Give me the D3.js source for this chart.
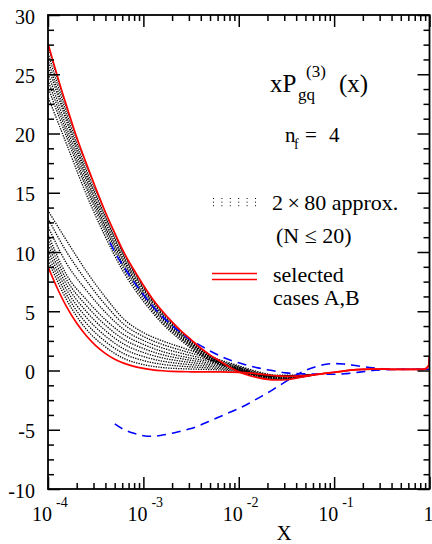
<!DOCTYPE html>
<html><head><meta charset="utf-8">
<script src="https://cdn.jsdelivr.net/npm/d3@7"></script>
<style>
body{margin:0;background:#fff}
svg{display:block}
</style>
</head><body><svg id="c" width="432" height="544"></svg>
<script>
// ---------- data (x given as log10 exponents) ----------
const caseAX = [-4.0,-3.9,-3.8,-3.7,-3.6,-3.5,-3.4,-3.3,-3.2,-3.1,-3.0,-2.9,-2.8,-2.7,-2.6,-2.5,-2.4,-2.3,-2.2,-2.1,-2.0,-1.9,-1.8,-1.7,-1.6,-1.5,-1.4,-1.3,-1.2,-1.1,-1.0,-0.9,-0.8,-0.7,-0.6,-0.5,-0.4,-0.3,-0.2,-0.1,-0.05,-0.01,0];
const caseAY = [27.6,24.8,22.2,19.7,17.5,15.4,13.4,11.6,9.9,8.5,7.2,6.0,5.0,4.1,3.3,2.6,1.9,1.3,0.8,0.3,-0.1,-0.4,-0.6,-0.75,-0.8,-0.78,-0.65,-0.5,-0.35,-0.25,-0.15,-0.05,0.05,0.1,0.12,0.12,0.1,0.1,0.1,0.1,0.12,0.4,1.2];
const caseBX = caseAX;
const caseBY = [8.75,6.9,5.3,4.0,2.95,2.1,1.45,0.95,0.6,0.35,0.18,0.06,-0.02,-0.08,-0.1,-0.11,-0.12,-0.12,-0.12,-0.13,-0.15,-0.2,-0.28,-0.38,-0.46,-0.5,-0.47,-0.42,-0.35,-0.25,-0.15,-0.05,0.05,0.1,0.12,0.12,0.1,0.1,0.1,0.1,0.12,0.4,1.2];

const dash1X = [-3.35,-3.3,-3.2,-3.1,-3.0,-2.9,-2.8,-2.7,-2.6,-2.5,-2.4,-2.3,-2.2,-2.1,-2.0,-1.9,-1.8,-1.7,-1.6,-1.5,-1.4,-1.3,-1.2,-1.1,-1.0,-0.9,-0.8,-0.7,-0.6,-0.5,-0.4,-0.2,0];
const dash1Y = [10.8,10.0,8.7,7.5,6.4,5.4,4.55,3.8,3.15,2.55,2.1,1.65,1.25,0.9,0.65,0.42,0.22,0.07,-0.08,-0.2,-0.25,-0.28,-0.3,-0.32,-0.32,-0.28,-0.2,-0.1,0.0,0.05,0.08,0.1,0.1];
const dash2X = [-3.3,-3.2,-3.1,-3.0,-2.9,-2.8,-2.7,-2.6,-2.5,-2.4,-2.3,-2.2,-2.1,-2.0,-1.9,-1.8,-1.7,-1.6,-1.5,-1.4,-1.3,-1.2,-1.1,-1.0,-0.9,-0.8,-0.7,-0.6,-0.5,-0.4,-0.2,0];
const dash2Y = [-4.5,-5.0,-5.3,-5.5,-5.55,-5.45,-5.3,-5.1,-4.9,-4.6,-4.25,-3.9,-3.55,-3.2,-2.8,-2.35,-1.9,-1.4,-0.9,-0.4,0.0,0.3,0.5,0.58,0.55,0.45,0.33,0.22,0.15,0.12,0.1,0.1];

// approximations (dotted), sampled on approxX
const approxX = [-4.0,-3.8,-3.6,-3.4,-3.2,-3.0,-2.8,-2.6,-2.4,-2.2,-2.0,-1.8,-1.6,-1.4,-1.2];
const approxUpper = [
  [27.4,22.0,17.4,13.3,9.8,7.1,4.95,3.25,1.85,0.8,-0.05,-0.55,-0.75,-0.62,-0.36],
  [26.8,21.6,17.0,13.0,9.6,6.95,4.8,3.15,1.8,0.75,-0.02,-0.5,-0.72,-0.6,-0.36],
  [26.2,21.2,16.7,12.8,9.4,6.8,4.7,3.05,1.72,0.7,0.02,-0.46,-0.68,-0.58,-0.36],
  [25.7,20.9,16.4,12.5,9.2,6.6,4.55,2.95,1.65,0.66,0.06,-0.42,-0.64,-0.56,-0.36],
  [25.1,20.4,16.1,12.2,9.0,6.45,4.4,2.85,1.57,0.62,0.1,-0.4,-0.6,-0.54,-0.36],
  [24.5,20.0,15.7,12.0,8.75,6.3,4.3,2.75,1.5,0.58,0.14,-0.38,-0.57,-0.52,-0.36],
  [23.9,19.6,15.4,11.7,8.5,6.1,4.1,2.65,1.4,0.54,0.18,-0.36,-0.54,-0.5,-0.36],
  [23.1,19.0,14.9,11.3,8.2,5.85,3.95,2.5,1.3,0.5,0.22,-0.34,-0.5,-0.48,-0.36]
];
const approxLower = [
  [9.3,5.9,3.5,2.0,1.0,0.5,0.25,0.15,0.1,0.05,-0.1,-0.35,-0.5,-0.45,-0.38],
  [9.74,6.32,4.0,2.46,1.4,0.84,0.52,0.36,0.26,0.16,-0.04,-0.34,-0.5,-0.45,-0.38],
  [10.18,6.74,4.5,2.92,1.8,1.18,0.79,0.57,0.42,0.27,0.02,-0.33,-0.5,-0.45,-0.38],
  [10.62,7.16,5.0,3.38,2.2,1.52,1.06,0.78,0.58,0.38,0.08,-0.32,-0.5,-0.45,-0.38],
  [11.06,7.58,5.5,3.84,2.6,1.86,1.33,0.99,0.74,0.49,0.14,-0.31,-0.5,-0.45,-0.38],
  [11.5,8.0,6.0,4.3,3.0,2.2,1.6,1.2,0.9,0.6,0.2,-0.3,-0.5,-0.45,-0.38],
  [12.16,8.96,6.79,4.93,3.43,2.53,1.9,1.45,1.07,0.7,0.27,-0.23,-0.47,-0.43,-0.37],
  [12.84,9.94,7.61,5.57,3.87,2.87,2.2,1.7,1.24,0.8,0.33,-0.17,-0.43,-0.42,-0.36],
  [13.5,10.9,8.4,6.2,4.3,3.2,2.5,1.95,1.4,0.9,0.4,-0.1,-0.4,-0.4,-0.35]
];

// ticks
const xMajor = [1e-4,1e-3,1e-2,1e-1,1];
const xMajorBase = ["10","10","10","10","1"];
const xMajorExp = ["-4","-3","-2","-1",""];
const yMajor = [-10,-5,0,5,10,15,20,25,30];
const yMajorLabels = ["-10","-5","0","5","10","15","20","25","30"];

// ---------- drawing ----------
const FONT = "Liberation Serif, Times New Roman, serif";
const W=432,H=544;
const M={l:48,r:429.5,t:15,b:489};
const x=d3.scaleLog().domain([1e-4,1]).range([M.l,M.r]);
const y=d3.scaleLinear().domain([-10,30]).range([M.b,M.t]);
const svg=d3.select('#c');
svg.append('rect').attr('width',W).attr('height',H).attr('fill','#fff');
svg.append('defs').append('clipPath').attr('id','clip').append('rect')
  .attr('x',M.l).attr('y',M.t).attr('width',M.r-M.l).attr('height',M.b-M.t);
const plot=svg.append('g').attr('clip-path','url(#clip)');
const line=d3.line().x(d=>x(Math.pow(10,d[0]))).y(d=>y(d[1])).curve(d3.curveMonotoneX);
const pts=(ex,ys)=>ex.map((e,i)=>[e,ys[i]]);
function txt(xp,yp,size,s,anchor){
  return svg.append('text').attr('x',xp).attr('y',yp).attr('font-size',size)
    .attr('font-family',FONT).attr('fill','#000').attr('text-anchor',anchor||'start').text(s);
}

approxLower.concat(approxUpper).forEach((ys,i)=>{
  plot.append('path').attr('d',line(pts(approxX,ys))).attr('fill','none')
    .attr('stroke','#000').attr('stroke-width',1.3).attr('stroke-dasharray','1.3 1.2')
    .attr('stroke-dashoffset',i*0.7);
});
[[dash1X,dash1Y],[dash2X,dash2Y]].forEach(([ex,ys])=>{
  plot.append('path').attr('d',line(pts(ex,ys))).attr('fill','none')
    .attr('stroke','#0000ff').attr('stroke-width',1.6).attr('stroke-dasharray','9 6');
});
[[caseAX,caseAY],[caseBX,caseBY]].forEach(([ex,ys])=>{
  plot.append('path').attr('d',line(pts(ex,ys))).attr('fill','none')
    .attr('stroke','#ff0000').attr('stroke-width',1.7);
});

// axes (inward ticks)
const xMinor=[]; for(let d=-4;d<0;d++) for(let k=2;k<=9;k++) xMinor.push(k*Math.pow(10,d));
const yMinor=d3.range(-10,30.001,1.25).filter(v=>Math.abs(v/5-Math.round(v/5))>1e-6);
function axisG(axis,tx,ty){
  const g=svg.append('g').attr('transform',`translate(${tx},${ty})`).call(axis);
  g.select('.domain').remove();
  g.selectAll('text').remove();
  g.selectAll('line').attr('stroke','#000').attr('stroke-width',1.5);
}
axisG(d3.axisBottom(x).tickValues(xMajor).tickSize(-12),0,M.b);
axisG(d3.axisBottom(x).tickValues(xMinor).tickSize(-6),0,M.b);
axisG(d3.axisTop(x).tickValues(xMajor).tickSize(-12),0,M.t);
axisG(d3.axisTop(x).tickValues(xMinor).tickSize(-6),0,M.t);
axisG(d3.axisLeft(y).tickValues(yMajor).tickSize(-12),M.l,0);
axisG(d3.axisLeft(y).tickValues(yMinor).tickSize(-6),M.l,0);
axisG(d3.axisRight(y).tickValues(yMajor).tickSize(-12),M.r,0);
axisG(d3.axisRight(y).tickValues(yMinor).tickSize(-6),M.r,0);
svg.append('rect').attr('x',M.l).attr('y',M.t).attr('width',M.r-M.l).attr('height',M.b-M.t)
  .attr('fill','none').attr('stroke','#000').attr('stroke-width',1.8);

// tick labels
yMajor.forEach((v,i)=>{ txt(35,y(v)+8.5,20,yMajorLabels[i],'end'); });
xMajor.forEach((v,i)=>{
  if(xMajorExp[i]){
    txt(x(v)+4,521,20,xMajorBase[i],'end');
    txt(x(v)+8,507,14,xMajorExp[i]);
  } else {
    txt(x(v)-1,521,20,xMajorBase[i],'middle');
  }
});
txt(284,540,21,'X','middle');

// title
txt(270,92,25,'xP');
txt(298,100,17,'gq');
txt(306,77,17,'(3)');
txt(339,92,25,'(x)');
txt(285,142,21,'n');
txt(294,149,14,'f');
txt(305,142,21,'=');
txt(329,142,21,'4');

// legend
const lg=svg.append('g');
for(let c=0;c<6;c++) for(let r=0;r<3;r++)
  lg.append('rect').attr('x',213+c*8.4).attr('y',198+r*3.6).attr('width',1).attr('height',1).attr('fill','#000');
txt(272,210,22,'2\u2009\u00d7\u200980 approx.');
txt(276,243,22,'(N \u2264 20)');
lg.append('line').attr('x1',212).attr('x2',257).attr('y1',273.5).attr('y2',273.5).attr('stroke','#ff0000').attr('stroke-width',1.5);
lg.append('line').attr('x1',212).attr('x2',257).attr('y1',279.5).attr('y2',279.5).attr('stroke','#ff0000').attr('stroke-width',1.5);
txt(273,282,22,'selected');
txt(273,305,22,'cases A,B');
</script>
</body></html>
